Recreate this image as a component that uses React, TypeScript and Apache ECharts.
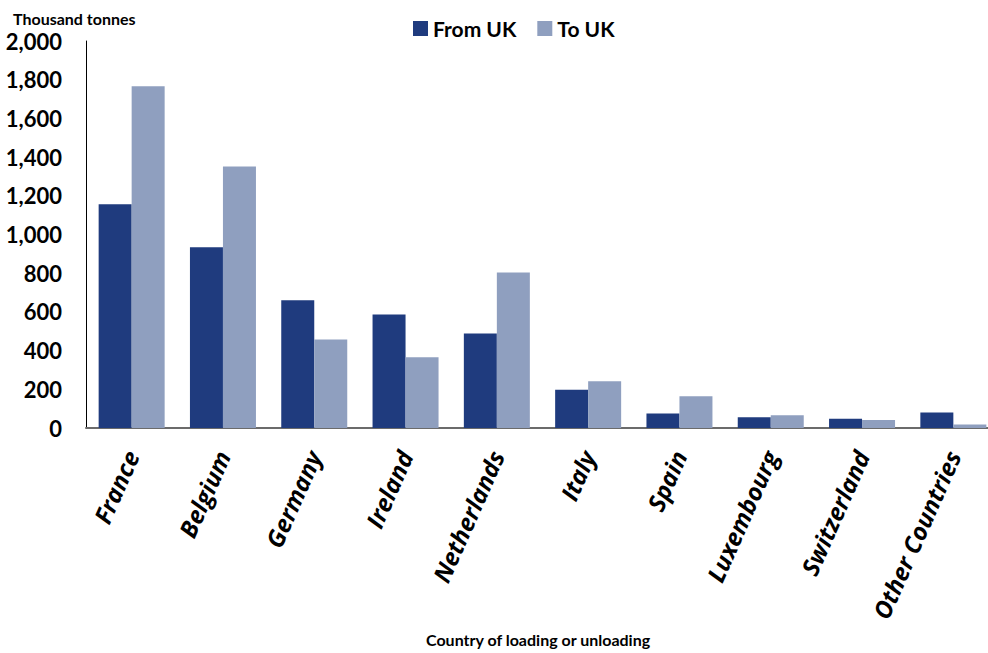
import React, { useEffect, useRef } from "react";
import * as echarts from "echarts";

const categories = ["France", "Belgium", "Germany", "Ireland", "Netherlands", "Italy", "Spain", "Luxembourg", "Switzerland", "Other Countries"];
const fromUK = [1156, 934, 660, 586, 488, 198, 75, 55, 48, 80];
const toUK = [1766, 1352, 457, 366, 804, 242, 164, 66, 41, 18];
const yTicks = { min: 0, max: 2000, interval: 200 };

const FONT = "Lato, 'Open Sans', sans-serif";
const LABEL_FONT = "'Open Sans', sans-serif";

export default function App() {
  const ref = useRef<HTMLDivElement>(null);
  useEffect(() => {
    document.body.style.overflow = "hidden";
    const chart = echarts.init(ref.current!, undefined, { renderer: "svg" });
    chart.setOption({
      animation: false,
      textStyle: { fontFamily: FONT },
      title: {
        text: "Thousand tonnes",
        left: 8,
        top: 5,
        textStyle: { fontSize: 16, fontWeight: "bold", color: "#000", fontFamily: FONT },
      },
      legend: {
        top: 13,
        left: 408,
        itemWidth: 15,
        itemHeight: 15,
        itemGap: 21,
        icon: "rect",
        textStyle: { fontSize: 21, fontWeight: "bold", color: "#000", fontFamily: FONT },
        data: ["From UK", "To UK"],
      },
      grid: { left: 86, right: 1, top: 41, bottom: 225, containLabel: false },
      xAxis: {
        type: "category",
        data: categories,
        axisLine: { lineStyle: { color: "#6b6b6b", width: 2 } },
        axisTick: { show: false },
        axisLabel: {
          rotate: 66,
          margin: 24,
          interval: 0,
          fontSize: 24,
          fontWeight: "bold",
          fontStyle: "italic",
          color: "#000",
          fontFamily: LABEL_FONT,
        },
      },
      yAxis: {
        type: "value",
        min: yTicks.min,
        max: yTicks.max,
        interval: yTicks.interval,
        axisLine: { show: true, lineStyle: { color: "#000", width: 1 } },
        axisTick: { show: false },
        splitLine: { show: false },
        axisLabel: {
          margin: 24,
          fontSize: 22,
          fontWeight: "bold",
          color: "#000",
          fontFamily: FONT,
          formatter: (v: number) => v.toLocaleString("en-US"),
        },
      },
      graphic: [
        {
          type: "text",
          left: 426,
          top: 631,
          style: {
            text: "Country of loading or unloading",
            fontSize: 16,
            fontWeight: "bold",
            fill: "#000",
            fontFamily: FONT,
          },
        },
      ],
      series: [
        {
          name: "From UK",
          type: "bar",
          data: fromUK,
          barWidth: 33,
          barGap: "0%",
          itemStyle: { color: "#1f3b7e" },
        },
        {
          name: "To UK",
          type: "bar",
          data: toUK,
          barWidth: 33,
          barGap: "0%",
          itemStyle: { color: "#8f9fbf" },
        },
      ],
    });
    return () => chart.dispose();
  }, []);
  return (
    <div
      ref={ref}
      style={{ position: "fixed", left: 0, top: 0, width: 1000, height: 653, background: "#fff" }}
    />
  );
}
